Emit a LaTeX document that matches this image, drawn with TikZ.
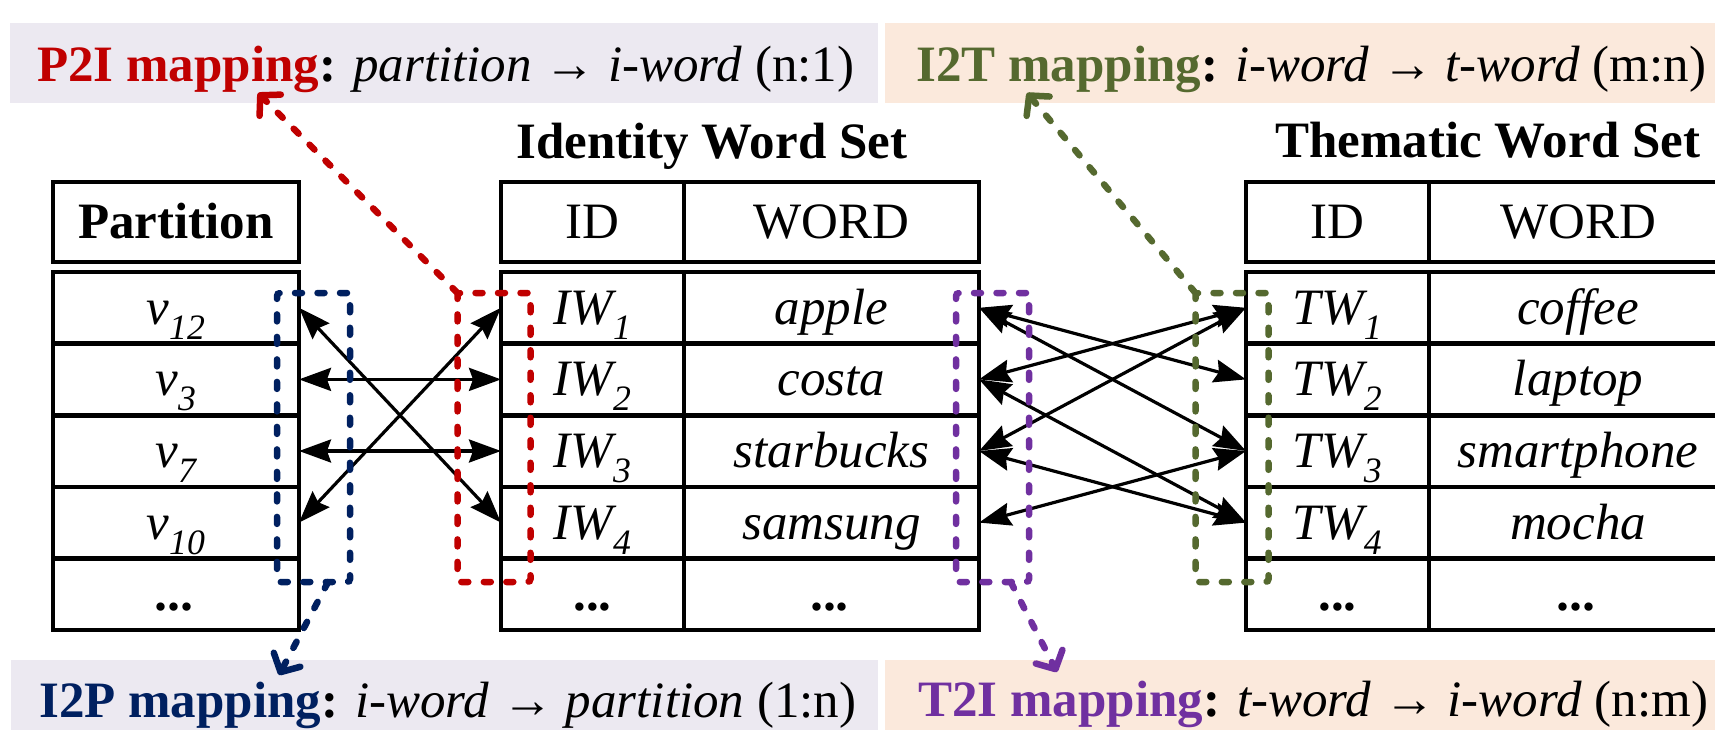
\documentclass[tikz,border=0pt]{standalone}
\usepackage{fontspec}
\setmainfont{Liberation Serif}
\usetikzlibrary{arrows.meta,calc}
\definecolor{cred}{HTML}{C00000}
\definecolor{cgreen}{HTML}{55692F}
\definecolor{cblue}{HTML}{002060}
\definecolor{cpurple}{HTML}{7030A0}
\definecolor{lav}{HTML}{ECE9F1}
\definecolor{peach}{HTML}{FBE9DC}
\tikzset{
  cell/.style={draw, line width=4.6pt, inner sep=0pt, outer sep=0pt, text height=33pt, text depth=0pt, anchor=north west, minimum height=71.6pt},
  hcell/.style={cell, minimum height=80pt},
  biarrow/.style={line width=3.2pt, {Stealth[length=32pt,width=23pt,inset=4pt]}-{Stealth[length=32pt,width=23pt,inset=4pt]}},
  dbox/.style={draw, line width=6.5pt, dash pattern=on 7pt off 15.5pt, line cap=round, rounded corners=3pt, inner sep=0pt, outer sep=0pt, minimum width=73pt, minimum height=289pt},
  darrow/.style={line width=6.5pt, dash pattern=on 7pt off 15.5pt, line cap=round, -{Straight Barb[length=14pt,width=30pt,round]}},
  band/.style={inner sep=0pt, outer sep=0pt, anchor=north west},
  lbl/.style={anchor=base west, inner sep=0pt},
}
\begin{document}
\begin{tikzpicture}[x=1pt,y=-1pt, every node/.style={font=\fontsize{51}{60}\selectfont}]
\clip (0,0) rectangle (1715,730);
\fill[white] (0,0) rectangle (1715,730);
% bands
\node[band, fill=lav, minimum width=868pt, minimum height=80pt] (bandTL) at (10,23) {};
\node[band, fill=peach, minimum width=840pt, minimum height=80pt] (bandTR) at (885,23) {};
\node[band, fill=lav, minimum width=867pt, minimum height=80pt] (bandBL) at (11,660) {};
\node[band, fill=peach, minimum width=840pt, minimum height=80pt] (bandBR) at (885,660) {};
% band texts
\node[lbl] (tP2I) at (37,82) {\textbf{\color{cred}P2I mapping}\textbf{:} \textit{partition} → \textit{i-word} (n:1)};
\node[lbl] (tI2T) at (916,82) {\textbf{\color{cgreen}I2T mapping}\textbf{:} \textit{i-word} → \textit{t-word} (m:n)};
\node[lbl] (tI2P) at (39,717) {\textbf{\color{cblue}I2P mapping}\textbf{:} \textit{i-word} → \textit{partition} (1:n)};
\node[lbl] (tT2I) at (918,716) {\textbf{\color{cpurple}T2I mapping}\textbf{:} \textit{t-word} → \textit{i-word} (n:m)};
% titles
\node[lbl, font=\fontsize{51}{60}\selectfont\bfseries] (ttlI) at (516,159) {Identity Word Set};
\node[lbl, font=\fontsize{51}{60}\selectfont\bfseries] (ttlT) at (1275,158) {Thematic Word Set};
% partition table
\node[hcell, minimum width=246pt] (ph) at (53,182) {\textbf{Partition}};
\node[cell, minimum width=246pt] (p1) at (53,272) {\textit{v\textsubscript{12}}};
\node[cell, minimum width=246pt] (p2) at (53,343.6) {\textit{v\textsubscript{3}}};
\node[cell, minimum width=246pt] (p3) at (53,415.2) {\textit{v\textsubscript{7}}};
\node[cell, minimum width=246pt] (p4) at (53,486.8) {\textit{v\textsubscript{10}}};
\node[cell, minimum width=246pt] (p5) at (53,558.4) {\textbf{\textit{...}}};
% identity table
\node[hcell, minimum width=183pt] (ih1) at (501,182) {ID};
\node[hcell, minimum width=295pt] (ih2) at (684,182) {WORD};
\node[cell, minimum width=183pt] (iid1) at (501,272) {\textit{IW\textsubscript{1}}};
\node[cell, minimum width=183pt] (iid2) at (501,343.6) {\textit{IW\textsubscript{2}}};
\node[cell, minimum width=183pt] (iid3) at (501,415.2) {\textit{IW\textsubscript{3}}};
\node[cell, minimum width=183pt] (iid4) at (501,486.8) {\textit{IW\textsubscript{4}}};
\node[cell, minimum width=183pt] (iid5) at (501,558.4) {\textbf{...}};
\node[cell, minimum width=295pt] (iw1) at (684,272) {\textit{apple}};
\node[cell, minimum width=295pt] (iw2) at (684,343.6) {\textit{costa}};
\node[cell, minimum width=295pt] (iw3) at (684,415.2) {\textit{starbucks}};
\node[cell, minimum width=295pt] (iw4) at (684,486.8) {\textit{samsung}};
\node[cell, minimum width=295pt] (iw5) at (684,558.4) {\textbf{\textit{...}}};
% thematic table
\node[hcell, minimum width=183pt] (th1) at (1246,182) {ID};
\node[hcell, minimum width=298pt] (th2) at (1429,182) {WORD};
\node[cell, minimum width=183pt] (tid1) at (1246,272) {\textit{TW\textsubscript{1}}};
\node[cell, minimum width=183pt] (tid2) at (1246,343.6) {\textit{TW\textsubscript{2}}};
\node[cell, minimum width=183pt] (tid3) at (1246,415.2) {\textit{TW\textsubscript{3}}};
\node[cell, minimum width=183pt] (tid4) at (1246,486.8) {\textit{TW\textsubscript{4}}};
\node[cell, minimum width=183pt] (tid5) at (1246,558.4) {\textbf{...}};
\node[cell, minimum width=298pt] (tw1) at (1429,272) {\textit{coffee}};
\node[cell, minimum width=298pt] (tw2) at (1429,343.6) {\textit{laptop}};
\node[cell, minimum width=298pt] (tw3) at (1429,415.2) {\textit{smartphone}};
\node[cell, minimum width=298pt] (tw4) at (1429,486.8) {\textit{mocha}};
\node[cell, minimum width=298pt] (tw5) at (1429,558.4) {\textbf{\textit{...}}};
% mapping arrows left
\draw[biarrow] (p1.east) -- (iid4.west);
\draw[biarrow] (p2.east) -- (iid2.west);
\draw[biarrow] (p3.east) -- (iid3.west);
\draw[biarrow] (p4.east) -- (iid1.west);
% mapping arrows right
\draw[biarrow] (iw1.east) -- (tid2.west);
\draw[biarrow] (iw1.east) -- (tid3.west);
\draw[biarrow] (iw2.east) -- (tid1.west);
\draw[biarrow] (iw2.east) -- (tid4.west);
\draw[biarrow] (iw3.east) -- (tid1.west);
\draw[biarrow] (iw3.east) -- (tid4.west);
\draw[biarrow] (iw4.east) -- (tid3.west);
% dashed boxes
\node[dbox, draw=cblue] (bbox) at (313.5,437.5) {};
\node[dbox, draw=cred] (rbox) at (494,437.5) {};
\node[dbox, draw=cpurple] (pbox) at (992.5,437.5) {};
\node[dbox, draw=cgreen] (gbox) at (1232,437.5) {};
% dashed pointers
\coordinate (p2iT) at (258,93);
\coordinate (i2tT) at (1027,93);
\coordinate (i2pT) at (279,675);
\coordinate (t2iT) at (1057,672);
\draw[darrow, cred] (rbox.north west) -- (p2iT);
\draw[darrow, cgreen] (gbox.north west) -- (i2tT);
\draw[darrow, cblue] ($(bbox.south west)!0.7!(bbox.south east)$) -- (i2pT);
\draw[darrow, cpurple] ($(pbox.south west)!0.75!(pbox.south east)$) -- (t2iT);
\end{tikzpicture}
\end{document}
